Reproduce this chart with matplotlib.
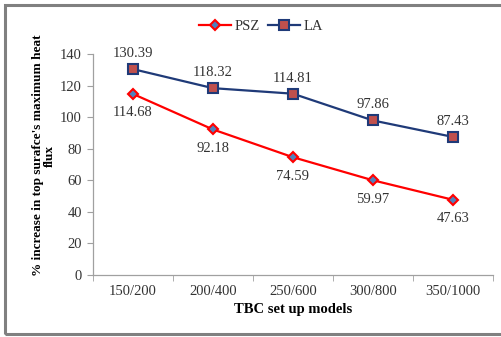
import matplotlib
matplotlib.use("Agg")
import matplotlib.pyplot as plt
from matplotlib.patches import Rectangle

categories = ["150/200", "200/400", "250/600", "300/800", "350/1000"]
psz = [114.68, 92.18, 74.59, 59.97, 47.63]
la = [130.39, 118.32, 114.81, 97.86, 87.43]
y_ticks = [0, 20, 40, 60, 80, 100, 120, 140]

plt.rcParams["font.family"] = ["Liberation Serif", "DejaVu Serif"]

fig = plt.figure(figsize=(5.02, 3.37), dpi=100)
ax = fig.add_axes([0.185, 0.184, 0.797, 0.656])

x = list(range(len(categories)))
ax.plot(x, psz, color="#FF0000", lw=1.6, marker="D", ms=5,
        mfc="#4F81BD", mec="#FF0000", mew=1.5, label="PSZ", zorder=3)
ax.plot(x, la, color="#1F3A78", lw=1.6, marker="s", ms=6.5,
        mfc="#C0504D", mec="#1F3A78", mew=1.5, label="LA", zorder=3)

for xi, v in zip(x, psz):
    ax.annotate(f"{v:.2f}", (xi, v), xytext=(0, -9), textcoords="offset points",
                ha="center", va="top", fontsize=10.5, color="#333333")
for xi, v in zip(x, la):
    ax.annotate(f"{v:.2f}", (xi, v), xytext=(0, 6.5), textcoords="offset points",
                ha="center", va="bottom", fontsize=10.5, color="#333333")

ax.set_xlim(-0.5, len(categories) - 0.5)
ax.set_ylim(0, 140)
ax.set_yticks(y_ticks)
ax.set_xticks(x)
ax.set_xticklabels(categories)
ax.set_xticks([i - 0.5 for i in range(len(categories) + 1)], minor=True)
ax.tick_params(axis="x", which="major", length=0, pad=7, labelsize=10.5, labelcolor="#333333")
ax.tick_params(axis="x", which="minor", length=4, color="#A0A0A0", direction="out")
ax.tick_params(axis="y", length=4, color="#A0A0A0", pad=4, labelsize=10.5, labelcolor="#333333")

for side in ["top", "right"]:
    ax.spines[side].set_visible(False)
for side in ["left", "bottom"]:
    ax.spines[side].set_color("#A0A0A0")
    ax.spines[side].set_linewidth(0.9)

ax.set_xlabel("TBC set up models", fontsize=10.5, fontweight="bold", labelpad=4)
ax.set_ylabel("% increase in top surafce's maximum heat\nflux", fontsize=9.5,
              fontweight="bold", linespacing=1.05)
ax.yaxis.set_label_coords(-0.092, 0.54)

leg = fig.legend(loc="center", bbox_to_anchor=(0.52, 0.922), ncol=2, frameon=False,
                 fontsize=10.5, handlelength=2.2, columnspacing=0.6, handletextpad=0.2)
for t in leg.get_texts():
    t.set_color("#333333")

fig.patches.append(Rectangle((0.01, 0.008), 1.2, 0.977, transform=fig.transFigure,
                             fill=False, edgecolor="#808080", lw=2.2))

fig.savefig("out.png", dpi=100)
